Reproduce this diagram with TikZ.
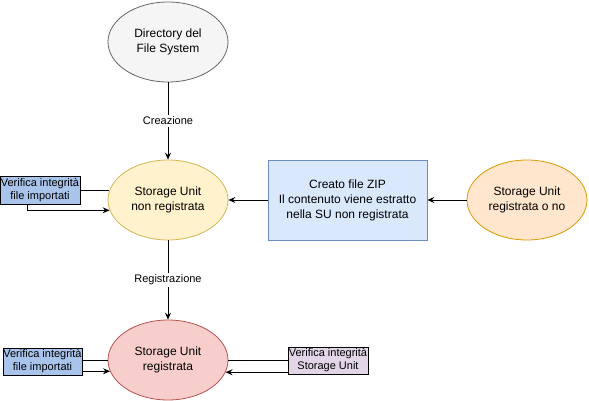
\documentclass[tikz,border=0pt]{standalone}
\usepackage{fontspec}
\setmainfont{Liberation Sans}
\usetikzlibrary{shapes.geometric,arrows.meta,calc}
\definecolor{grayfill}{HTML}{F5F5F5}
\definecolor{graystroke}{HTML}{666666}
\definecolor{yelfill}{HTML}{FFF2CC}
\definecolor{yelstroke}{HTML}{D6B656}
\definecolor{bluefill}{HTML}{DAE8FC}
\definecolor{bluestroke}{HTML}{6C8EBF}
\definecolor{orfill}{HTML}{FFE6CC}
\definecolor{orstroke}{HTML}{D79B00}
\definecolor{redfill}{HTML}{F8CECC}
\definecolor{redstroke}{HTML}{B85450}
\definecolor{dbluefill}{HTML}{A9C4EB}
\definecolor{purpfill}{HTML}{E1D5E7}
\tikzset{
  ell/.style={ellipse, draw, line width=0.8pt, minimum width=120pt, minimum height=80pt, inner sep=0pt, align=center, font=\fontsize{12}{14.5}\selectfont},
  smallbox/.style={rectangle, draw=black, line width=0.8pt, inner sep=0pt, align=center, font=\fontsize{11}{13}\selectfont},
  conn/.style={draw=black, line width=0.8pt},
  arr/.style={conn, -{Stealth[length=7pt,width=6pt,inset=2.5pt]}},
  elabel/.style={fill=white, inner sep=1.5pt, font=\fontsize{11}{13}\selectfont}
}
\begin{document}
\begin{tikzpicture}[x=1pt,y=-1pt]
\useasboundingbox (0,0) rectangle (589,401);
\node[ell, fill=grayfill, draw=graystroke] (dir) at (168,42) {Directory del\\File System};
\node[ell, fill=yelfill, draw=yelstroke] (su1) at (168,200) {Storage Unit\\non registrata};
\node[ell, fill=redfill, draw=redstroke] (su2) at (168,360) {Storage Unit\\registrata};
\node[ell, fill=orfill, draw=orstroke] (sur) at (527,200) {Storage Unit\\registrata o no};
\node[rectangle, draw=bluestroke, fill=bluefill, line width=0.8pt, minimum width=159pt, minimum height=80pt, inner sep=0pt, align=center, font=\fontsize{12}{15}\selectfont] (zip) at (347.5,200) {Creato file ZIP\\Il contenuto viene estratto\\nella SU non registrata};
\node[smallbox, fill=dbluefill, minimum width=80pt, minimum height=28pt] (vf1) at (40,190) {Verifica integrità\\file importati};
\node[smallbox, fill=dbluefill, minimum width=79pt, minimum height=27pt] (vf2) at (42.5,361.5) {Verifica integrità\\file importati};
\node[smallbox, fill=purpfill, minimum width=80pt, minimum height=27pt] (vf3) at (328,360.5) {Verifica integrità\\Storage Unit};

\draw[arr] (dir) -- node[elabel] {Creazione} (su1);
\draw[arr] (su1) -- node[elabel] {Registrazione} (su2);
\draw[arr] (zip) -- (su1);
\draw[arr] (sur) -- (zip);

\draw[conn] (su1.171 -| vf1.east) -- (su1.171);
\draw[arr] ($(vf1.south)+(-13,0)$) |- (su1.190);

\draw[conn] (su2.west -| vf2.east) -- (su2.west);
\draw[arr] (su2.191 -| vf2.east) -- (su2.191);

\draw[conn] (su2.east) -- (su2.east -| vf3.west);
\draw[arr] (su2.348 -| vf3.west) -- (su2.348);
\end{tikzpicture}
\end{document}
